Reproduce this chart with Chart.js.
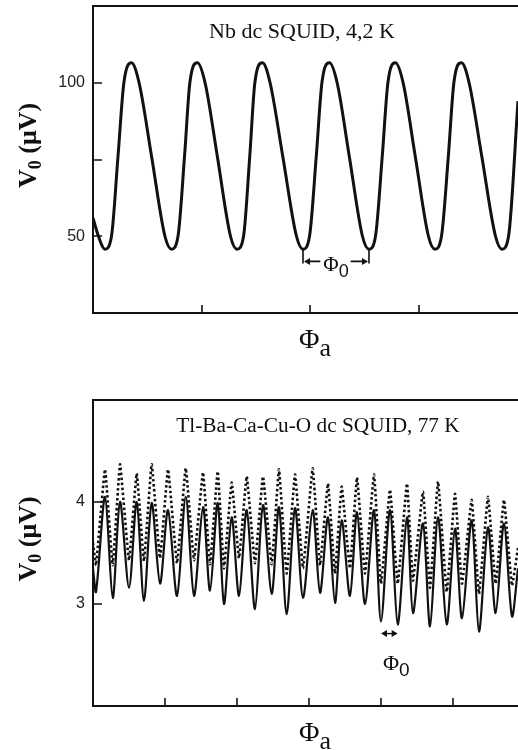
<!DOCTYPE html>
<html><head><meta charset="utf-8">
<script src="https://cdn.jsdelivr.net/npm/chart.js@4/dist/chart.umd.min.js"></script>
<style>
html,body{margin:0;padding:0;background:#fff;width:518px;height:750px;overflow:hidden}
.box{position:absolute;left:0;width:518px}
#b1{top:0;height:370px}
#b2{top:370px;height:380px}
canvas{display:block}
</style></head><body>
<div class="box" id="b1"><canvas id="c1" width="518" height="370"></canvas></div>
<div class="box" id="b2"><canvas id="c2" width="518" height="380"></canvas></div>
<script>
const INK = '#111';
const SERIF = '"Liberation Serif", "Times New Roman", serif';
const SANS = '"Liberation Sans", Arial, sans-serif';

// ---------- top panel : Nb dc SQUID, 4,2 K ----------
const nbTitle = 'Nb dc SQUID, 4,2 K';
const nbFlux = [0, 0.050, 0.110, 0.170, 0.230, 0.284, 0.354, 0.424, 0.539, 0.662, 0.722, 0.782,
  0.842, 0.891, 0.961, 1.031, 1.144, 1.265, 1.325, 1.385, 1.442, 1.489, 1.559, 1.629,
  1.746, 1.872, 1.932, 1.992, 2.054, 2.106, 2.176, 2.246, 2.358, 2.479, 2.539, 2.599,
  2.661, 2.713, 2.783, 2.853, 2.965, 3.086, 3.146, 3.206, 3.269, 3.320, 3.390, 3.460,
  3.577, 3.703, 3.763, 3.823, 3.910];
const nbVoltage = [56, 50, 45.8, 50, 76, 100, 106.5, 100, 76, 50, 45.8, 50,
  76, 100, 106.5, 100, 76, 50, 45.8, 50, 76, 100, 106.5, 100,
  76, 50, 45.8, 50, 76, 100, 106.5, 100, 76, 50, 45.8, 50,
  76, 100, 106.5, 100, 76, 50, 45.8, 50, 76, 100, 106.5, 100,
  76, 50, 45.8, 50, 94];
const nbYTicks = [50, 75, 100];
const nbYLabels = [50, 100];
const nbXTicks = [1, 2, 3];
const nbYRange = [25, 125];
const nbXRange = [0, 3.91];
const nbPhi0Marks = [1.932, 2.539];
const nbPhi0Level = 41.8;

// ---------- bottom panel : Tl-Ba-Ca-Cu-O dc SQUID, 77 K ----------
const tlTitle = 'Tl-Ba-Ca-Cu-O dc SQUID, 77 K';
const tlFlux = [0.000, 0.042,
  0.167, 0.274, 0.375, 0.500, 0.607, 0.708, 0.815, 0.931, 1.042, 1.167, 1.288, 1.403,
  1.528, 1.625, 1.732, 1.819, 1.926, 2.028, 2.135, 2.250, 2.361, 2.482, 2.583, 2.690,
  2.806, 2.917, 3.051, 3.153, 3.264, 3.361, 3.454, 3.569, 3.667, 3.778, 3.903, 4.000,
  4.125, 4.232, 4.361, 4.444, 4.583, 4.681, 4.792, 4.913, 5.028, 5.125, 5.260, 5.361,
  5.486, 5.593, 5.708, 5.819, 5.903];
const tlSolid = [3.35, 3.12,
  4.05, 3.06, 4.00, 3.16, 4.00, 3.03, 3.99, 3.20, 3.92, 3.08, 4.05, 3.08,
  3.95, 3.13, 3.99, 3.00, 3.85, 3.08, 3.92, 2.95, 3.97, 3.10, 3.95, 2.90,
  3.94, 3.06, 3.92, 3.11, 3.85, 3.01, 3.82, 3.08, 3.90, 3.00, 3.92, 2.83,
  3.92, 2.80, 3.85, 2.91, 3.79, 2.78, 3.85, 2.80, 3.74, 2.86, 3.82, 2.73,
  3.75, 2.91, 3.79, 2.88, 3.35];
const tlDotted = [3.60, 3.38,
  4.32, 3.38, 4.37, 3.43, 4.28, 3.42, 4.37, 3.45, 4.32, 3.40, 4.33, 3.43,
  4.29, 3.39, 4.30, 3.35, 4.19, 3.45, 4.25, 3.40, 4.25, 3.39, 4.32, 3.30,
  4.27, 3.35, 4.33, 3.38, 4.18, 3.30, 4.15, 3.35, 4.24, 3.30, 4.27, 3.20,
  4.12, 3.20, 4.18, 3.23, 4.10, 3.16, 4.20, 3.12, 4.08, 3.20, 4.02, 3.10,
  4.05, 3.20, 4.02, 3.18, 3.55];
const tlYTicks = [3, 4];
const tlYLabels = [3, 4];
const tlXTicks = [1, 2, 3, 4, 5];
const tlYRange = [2, 5];
const tlXRange = [0, 5.903];
const tlPhi0Marks = [4.000, 4.232];
const tlPhi0Level = 2.71;

function pts(xs, ys) { return xs.map((v, i) => ({x: v, y: ys[i]})); }

function drawRuns(ctx, runs, cx, baseY, align) {
  let w = 0;
  runs.forEach(r => { ctx.font = r.f; r.w = ctx.measureText(r.t).width; w += r.w; });
  let xx = align === 'left' ? cx : cx - w / 2;
  ctx.textAlign = 'left';
  ctx.textBaseline = 'alphabetic';
  runs.forEach(r => { ctx.font = r.f; ctx.fillText(r.t, xx, baseY + r.dy); xx += r.w; });
  return w;
}
function arrowHead(ctx, tipX, tipY, dir) {
  ctx.beginPath();
  ctx.moveTo(tipX, tipY);
  ctx.lineTo(tipX - dir * 6, tipY - 3.5);
  ctx.lineTo(tipX - dir * 6, tipY + 3.5);
  ctx.closePath();
  ctx.fill();
}

function decor(p) {
  return {
    id: 'decor',
    afterDraw(chart) {
      const {ctx, chartArea: a} = chart;
      const x = chart.scales.x, y = chart.scales.y;
      ctx.save();
      ctx.strokeStyle = INK; ctx.fillStyle = INK;
      ctx.lineWidth = 2;
      ctx.beginPath(); ctx.moveTo(a.left - 1, a.top); ctx.lineTo(a.right, a.top); ctx.stroke();
      ctx.lineWidth = 1.6;
      ctx.beginPath();
      p.xTicks.forEach(v => { const px = Math.round(x.getPixelForValue(v)); ctx.moveTo(px, a.bottom); ctx.lineTo(px, a.bottom - 8); });
      p.yTicks.forEach(v => { const py = Math.round(y.getPixelForValue(v)); ctx.moveTo(a.left, py); ctx.lineTo(a.left + 9, py); });
      ctx.stroke();
      // panel title
      ctx.font = p.titleSize + 'px ' + SERIF; ctx.textAlign = 'center'; ctx.textBaseline = 'alphabetic';
      ctx.fillText(p.title, p.titleX, a.top + 32);
      // x-axis title
      drawRuns(ctx, [{t: 'Φ', f: '28px ' + SERIF, dy: 0}, {t: 'a', f: '26px ' + SERIF, dy: 8}], 315, a.bottom + 35);
      // y-axis title
      ctx.save();
      ctx.translate(36, a.top + (a.bottom - a.top) / 2 - 14);
      ctx.rotate(-Math.PI / 2);
      drawRuns(ctx, [{t: 'V', f: 'bold 26px ' + SERIF, dy: 0}, {t: '0', f: 'bold 18px ' + SERIF, dy: 5},
        {t: ' (μV)', f: 'bold 26px ' + SERIF, dy: 0}], 0, 0);
      ctx.restore();
      p.phi0(ctx, x, y);
      ctx.restore();
    }
  };
}

function makeChart(id, p) {
  return new Chart(document.getElementById(id), {
    type: 'line',
    data: {datasets: p.datasets},
    options: {
      responsive: false, animation: false, events: [],
      layout: {padding: {top: p.padTop, left: 0, right: 0, bottom: 0}},
      plugins: {legend: {display: false}, tooltip: {enabled: false}, title: {display: false}},
      elements: {point: {radius: 0}},
      scales: {
        x: {
          type: 'linear', min: p.xRange[0], max: p.xRange[1],
          grid: {display: false, drawTicks: false},
          border: {display: true, color: INK, width: 2},
          ticks: {display: false},
          afterFit: s => { s.height = p.xHeight; s.paddingLeft = 0; s.paddingRight = 0; }
        },
        y: {
          type: 'linear', min: p.yRange[0], max: p.yRange[1],
          grid: {display: false, drawTicks: false},
          border: {display: true, color: INK, width: 2},
          afterBuildTicks: s => { s.ticks = p.yTicks.map(v => ({value: v})); },
          ticks: {
            padding: 8, color: '#222', font: {family: SANS, size: 16},
            callback: v => p.yLabels.includes(v) ? String(v) : ''
          },
          afterFit: s => { s.width = 93; s.paddingTop = 0; s.paddingBottom = 0; }
        }
      }
    },
    plugins: [decor(p)]
  });
}

makeChart('c1', {
  title: nbTitle, titleX: 302, titleSize: 22, padTop: 6, xHeight: 57,
  xRange: nbXRange, yRange: nbYRange, xTicks: nbXTicks, yTicks: nbYTicks, yLabels: nbYLabels,
  datasets: [{
    data: pts(nbFlux, nbVoltage), borderColor: INK, borderWidth: 3,
    cubicInterpolationMode: 'monotone', fill: false
  }],
  phi0: (ctx, x, y) => {
    const x1 = x.getPixelForValue(nbPhi0Marks[0]), x2 = x.getPixelForValue(nbPhi0Marks[1]);
    const yl = y.getPixelForValue(nbPhi0Level);
    ctx.lineWidth = 1.6;
    ctx.beginPath();
    ctx.moveTo(x1, yl - 12); ctx.lineTo(x1, yl + 2);
    ctx.moveTo(x2, yl - 12); ctx.lineTo(x2, yl + 2);
    ctx.stroke();
    const cx = (x1 + x2) / 2;
    const w = drawRuns(ctx, [{t: 'Φ', f: '21px ' + SERIF, dy: 0}, {t: '0', f: '18px ' + SANS, dy: 6}], cx, yl + 10);
    const l = cx - w / 2 - 3, r = cx + w / 2 + 2;
    ctx.beginPath(); ctx.moveTo(l, yl); ctx.lineTo(x1 + 5, yl); ctx.moveTo(r, yl); ctx.lineTo(x2 - 5, yl); ctx.stroke();
    arrowHead(ctx, x1 + 1, yl, -1);
    arrowHead(ctx, x2 - 1, yl, 1);
  }
});

makeChart('c2', {
  title: tlTitle, titleX: 318, titleSize: 21.3, padTop: 30, xHeight: 44,
  xRange: tlXRange, yRange: tlYRange, xTicks: tlXTicks, yTicks: tlYTicks, yLabels: tlYLabels,
  datasets: [{
    data: pts(tlFlux, tlDotted), borderColor: INK, borderWidth: 2.6, borderDash: [2.5, 2.5],
    tension: 0.1, fill: false
  }, {
    data: pts(tlFlux, tlSolid), borderColor: INK, borderWidth: 2.2,
    tension: 0.3, fill: false
  }],
  phi0: (ctx, x, y) => {
    const x1 = x.getPixelForValue(tlPhi0Marks[0]), x2 = x.getPixelForValue(tlPhi0Marks[1]);
    const yl = y.getPixelForValue(tlPhi0Level);
    ctx.lineWidth = 1.4;
    ctx.beginPath(); ctx.moveTo(x1 + 4, yl); ctx.lineTo(x2 - 4, yl); ctx.stroke();
    arrowHead(ctx, x1, yl, -1);
    arrowHead(ctx, x2, yl, 1);
    drawRuns(ctx, [{t: 'Φ', f: '22px ' + SERIF, dy: 0}, {t: '0', f: '19px ' + SANS, dy: 6}], x1 + 2, yl + 36, 'left');
  }
});
</script>
</body></html>
